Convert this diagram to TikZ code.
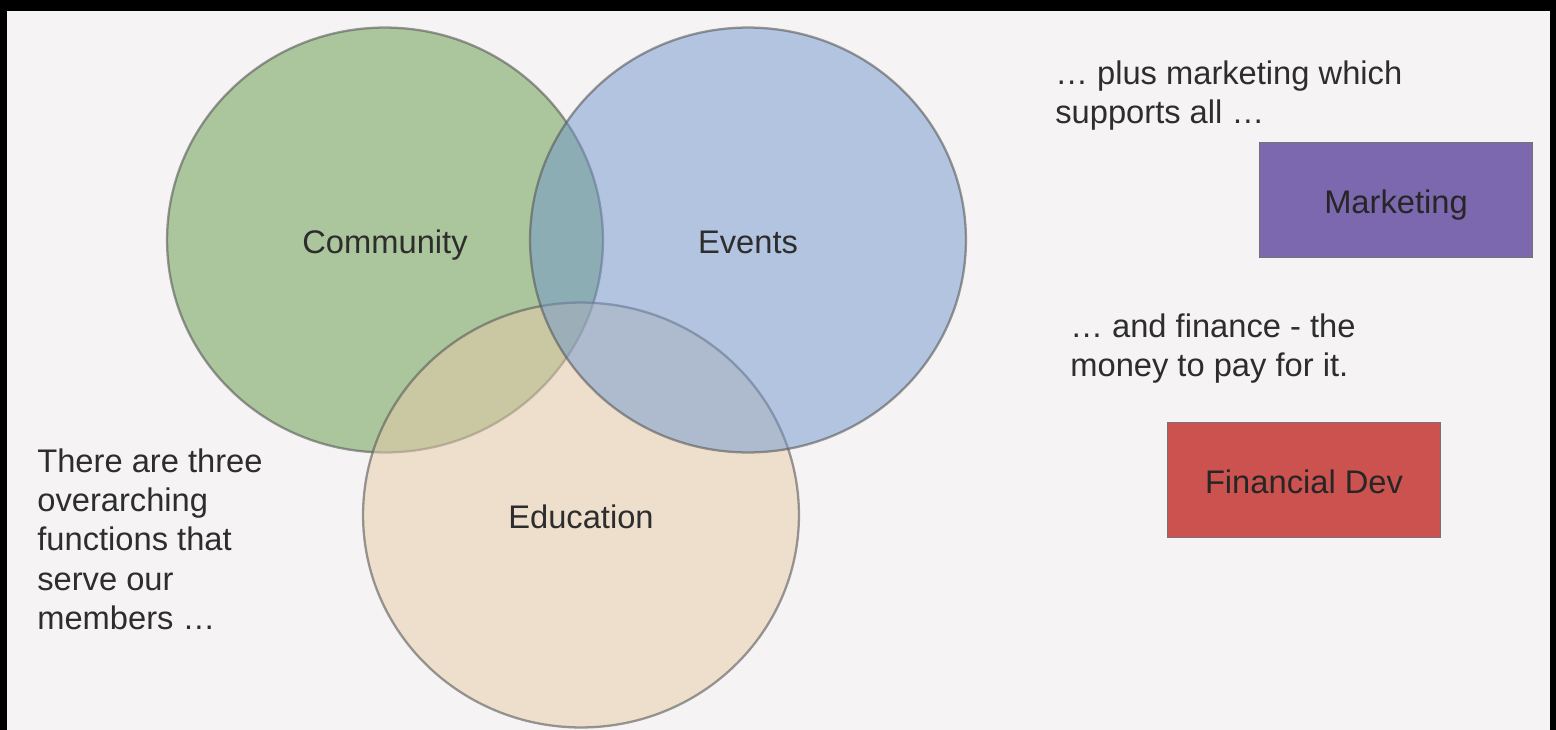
\documentclass[tikz,border=0pt]{standalone}
\usepackage{fontspec}
\setmainfont{Liberation Sans}
\usetikzlibrary{shapes.geometric}
\definecolor{bggray}{RGB}{245,243,244}
\definecolor{commgreen}{RGB}{99,152,70}
\definecolor{evblue}{RGB}{112,150,205}
\definecolor{edubeige}{RGB}{232,204,168}
\definecolor{mkpurple}{RGB}{123,104,174}
\definecolor{finred}{RGB}{204,82,80}
\definecolor{txtgray}{RGB}{45,45,45}
\begin{document}
\begin{tikzpicture}[x=0.02cm, y=-0.02cm,
	every node/.style={font=\fontsize{18.6}{22.4}\selectfont, text=txtgray},
	venn/.style={draw=black!65, line width=1.3pt, ellipse, minimum width=8.72cm, minimum height=8.5cm, fill opacity=0.5, draw opacity=0.6, text opacity=1, text height=15pt, text depth=0pt},
	unitbox/.style={draw=black!55, line width=1pt, minimum width=5.46cm, minimum height=2.3cm, text=black!85, text height=15pt, text depth=0pt},
	note/.style={align=left, anchor=north west, inner sep=0pt}]
		% frame
		\fill[black] (0,0) rectangle (1556,730);
		\fill[bggray] (7,11) rectangle (1550,730);
		\useasboundingbox (0,0) rectangle (1556,730);

		% the three functions
		\node[venn, fill=commgreen] (comm) at (385,240) {Community};
		\node[venn, fill=edubeige] (edu) at (581,515) {Education};
		\node[venn, fill=evblue] (events) at (748,240) {Events};

		\node[note] (intro) at (37,448) {There are three\\overarching\\functions that\\serve our\\members \ldots};

		% support
		\node[note] (plus) at (1055,60) {\ldots\ plus marketing which\\supports all \ldots};
		\node[unitbox, fill=mkpurple] (mkt) at (1396,200) {Marketing};

		\node[note] (fin) at (1070,313) {\ldots\ and finance - the\\money to pay for it.};
		\node[unitbox, fill=finred] (findev) at (1304,480) {Financial Dev};
	\end{tikzpicture}
\end{document}
